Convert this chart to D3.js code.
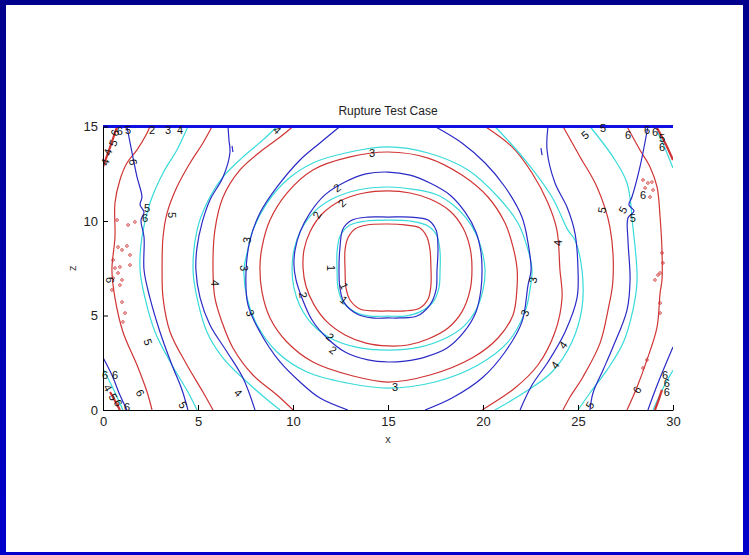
<!DOCTYPE html>
<html>
<head>
<meta charset="utf-8">
<script src="https://cdn.jsdelivr.net/npm/d3@7"></script>
<style>
  body { margin: 0; background: #fff; }
  svg { display: block; }
</style>
</head>
<body>
<svg id="chart" width="749" height="555"></svg>
<script>
// ---- Axis ticks ----
const xTicks = [0, 5, 10, 15, 20, 25, 30];
const zTicks = [0, 5, 10, 15];

// ---- Rupture-time contours, points are [x, z] ----
// level 1
const red1 = [[15.0,9.84],[15.89,9.79],[16.68,9.63],[17.05,9.15],[17.21,8.47],[17.26,7.51],[17.26,6.61],[17.11,5.87],[16.68,5.40],[15.89,5.24],[15.0,5.24],[14.32,5.24],[13.53,5.34],[13.0,5.82],[12.79,6.46],[12.74,7.41],[12.74,8.47],[12.89,9.10],[13.26,9.58],[13.89,9.79]];
const cyan1 = [[15.0,10.05],[16.16,10.0],[17.11,9.74],[17.58,9.21],[17.74,8.36],[17.74,7.41],[17.68,6.46],[17.37,5.71],[16.68,5.19],[15.89,4.97],[15.0,4.97],[14.05,4.97],[13.26,5.19],[12.63,5.71],[12.37,6.46],[12.32,7.41],[12.32,8.36],[12.48,9.21],[13.0,9.79],[13.84,10.0]];
const blue1 = [[15.0,10.21],[16.16,10.21],[17.11,10.05],[17.53,9.52],[17.63,8.57],[17.58,7.41],[17.53,6.35],[17.21,5.56],[16.53,4.97],[15.63,4.87],[15.0,4.87],[14.16,4.87],[13.37,5.08],[12.68,5.71],[12.47,6.46],[12.42,7.41],[12.47,8.57],[12.63,9.58],[13.11,10.05],[13.95,10.21]];
// level 2
const red2 = [[15.0,11.59],[16.16,11.48],[17.21,11.16],[18.26,10.53],[18.95,9.63],[19.32,8.57],[19.42,7.51],[19.32,6.35],[18.89,5.19],[18.16,4.34],[17.11,3.76],[16.05,3.44],[15.0,3.39],[13.84,3.54],[12.74,3.97],[11.79,4.66],[11.11,5.56],[10.68,6.56],[10.53,7.51],[10.58,8.47],[10.89,9.42],[11.53,10.37],[12.47,11.06],[13.74,11.48]];
const cyan2 = [[15.0,11.80],[16.26,11.69],[17.47,11.43],[18.37,10.90],[19.11,10.16],[19.68,9.21],[20.0,8.20],[20.11,7.41],[20.0,6.35],[19.63,5.29],[19.0,4.44],[18.05,3.81],[16.68,3.33],[15.0,3.17],[13.32,3.33],[11.95,3.81],[11.0,4.55],[10.37,5.50],[10.05,6.46],[9.95,7.41],[10.05,8.47],[10.42,9.52],[11.11,10.48],[12.05,11.16],[13.42,11.64]];
const blue2 = [[15.0,12.59],[16.16,12.43],[17.21,12.01],[18.26,11.38],[19.05,10.48],[19.63,9.42],[19.89,8.36],[19.95,7.41],[19.89,6.35],[19.63,5.19],[19.0,4.13],[18.11,3.28],[16.95,2.80],[15.89,2.59],[15.0,2.54],[13.95,2.65],[12.74,3.07],[11.79,3.81],[11.0,4.76],[10.47,5.93],[10.16,6.88],[10.05,7.67],[10.11,8.47],[10.37,9.42],[10.89,10.42],[11.68,11.38],[12.74,12.06],[13.84,12.49]];
// level 3
const red3 = [[15.0,13.65],[17.11,13.33],[18.89,12.43],[20.26,11.27],[21.16,9.89],[21.58,8.62],[21.79,7.51],[21.79,6.46],[21.58,5.03],[20.79,3.81],[19.42,2.75],[17.21,1.85],[15.0,1.48],[13.16,1.80],[11.05,2.54],[9.68,3.60],[8.79,4.87],[8.37,6.24],[8.26,7.51],[8.37,8.62],[8.79,10.05],[9.68,11.48],[11.05,12.70],[13.0,13.39]];
const cyan3 = [[15.0,13.92],[17.11,13.60],[19.21,12.70],[20.79,11.27],[21.84,9.89],[22.37,8.47],[22.58,7.41],[22.47,6.35],[22.21,5.19],[21.32,3.60],[19.74,2.38],[17.47,1.48],[15.0,1.16],[12.84,1.43],[10.74,2.01],[9.16,3.07],[8.11,4.50],[7.58,5.93],[7.42,7.41],[7.58,8.31],[7.89,9.52],[8.63,10.95],[9.68,12.17],[11.05,13.07],[13.0,13.65]];
const blue3a = [[12.47,15],[11.42,14.13],[10.37,13.23],[9.16,11.80],[8.26,10.42],[7.74,8.99],[7.53,7.41],[7.63,5.56],[8.26,4.13],[9.32,2.54],[10.37,1.48],[11.42,0.63],[12.89,0]];
const blue3b = [[17.47,15],[18.89,14.13],[20.11,13.07],[21.16,11.80],[22.05,10.21],[22.37,8.84],[22.53,7.41],[22.37,6.61],[22.05,4.66],[21.16,3.07],[19.95,1.69],[18.37,0.63],[16.95,0]];
// level 4
const red4a = [[10.0,15],[9.32,14.44],[8.26,13.65],[7.21,12.70],[6.32,11.27],[5.89,9.52],[5.79,7.41],[5.89,5.93],[6.26,4.66],[6.84,3.28],[7.89,1.85],[9.16,0.79],[10.0,0]];
const red4b = [[20.11,15],[21.53,13.92],[22.58,12.54],[23.42,10.95],[23.89,9.52],[24.05,7.41],[24.16,5.93],[23.79,4.13],[22.89,2.38],[21.68,1.16],[19.95,0]];
const cyan4a = [[9.16,15],[8.42,14.29],[7.37,13.39],[6.32,12.33],[5.47,10.95],[4.95,9.52],[4.74,7.41],[4.95,5.93],[5.47,4.13],[6.32,2.75],[7.58,1.48],[8.79,0.42],[9.32,0]];
const cyan4b = [[20.63,15],[22.21,13.23],[23.63,11.27],[24.47,9.52],[24.84,8.99],[25.21,7.41],[25.21,5.40],[24.68,3.60],[23.63,2.01],[22.21,0.95],[20.63,0]];
const blue4a = [[6.58,15],[6.63,14.29],[6.68,13.60],[6.32,12.33],[5.63,11.11],[5.21,9.89],[4.95,8.62],[4.89,7.41],[5.11,5.93],[5.63,4.50],[6.53,3.07],[7.37,1.69],[8.0,0]];
const blue4b = [[23.42,15],[23.37,13.76],[23.79,12.01],[24.42,10.74],[24.84,9.36],[25.0,7.41],[24.95,5.93],[24.32,4.13],[23.42,2.54],[22.58,1.32],[21.95,0]];
// level 5
const red5a = [[5.74,15],[5.26,14.13],[4.58,13.07],[3.89,11.80],[3.37,10.42],[3.16,9.15],[3.11,7.41],[3.16,5.93],[3.53,4.13],[4.42,2.38],[5.26,0.95],[5.79,0]];
const red5b = [[24.21,15],[25.11,13.39],[26.0,11.80],[26.68,9.68],[26.84,6.88],[26.58,5.29],[26.16,3.54],[25.26,1.75],[24.58,0.69],[24.21,0]];
const cyan5a = [[4.47,15],[3.89,13.76],[3.16,12.54],[2.47,10.95],[2.05,9.15],[1.95,7.41],[2.21,5.93],[2.74,4.13],[3.63,2.38],[4.47,0.95],[4.95,0]];
const cyan5b = [[25.63,15],[26.84,13.39],[27.58,12.01],[27.89,9.68],[28.11,6.88],[27.89,5.29],[27.37,3.54],[26.53,2.12],[25.63,0.90],[25.0,0]];
const blue5a = [[1.26,15],[1.53,13.60],[1.79,12.33],[2.05,11.27],[1.95,10.85],[2.16,10.48],[2.0,10.05],[2.16,9.15],[2.16,7.41],[2.47,5.93],[3.0,4.13],[3.63,2.38],[4.16,1.06],[4.47,0]];
const blue5b = [[28.68,15],[28.26,12.86],[27.84,11.27],[27.68,10.85],[27.95,10.53],[27.63,10.16],[27.63,8.99],[27.74,6.88],[27.58,5.29],[26.84,3.33],[26.32,2.12],[25.79,0.90],[25.63,0]];
// level 6
const red6a = [[2.47,15],[2.32,14.66],[1.79,13.76],[1.26,13.07],[0.89,12.17],[0.63,10.95],[0.63,9.15],[0.47,7.41],[0.63,5.93],[1.05,4.13],[1.79,2.38],[2.32,0.95],[2.58,0]];
const red6b = [[27.58,15],[28.26,13.76],[28.79,12.86],[29.16,11.80],[29.32,10.21],[29.42,8.47],[29.42,6.88],[29.32,6.19],[29.16,4.39],[28.63,2.65],[28.11,1.22],[27.58,0]];
// corner fragments where the fronts reach the edges
const blueCornerSW = [[0,2.78],[0.47,1.85],[0.89,0.79],[1.26,0]];
const blueCornerSE = [[28.68,0],[29.2,1.4],[30,3.33]];
const cyanCornerSW = [[0,2.2],[0.5,1.2],[1.05,0]];
const cyanCornerNE = [[29.16,14.75],[29.6,13.8],[30,12.8]];
const cyanCornerSE = [[28.95,0],[29.5,1.2],[30,2.1]];
const redCornerNW = [[0,12.86],[0.37,13.9],[0.74,15]];
const redCornerNE = [[29.16,14.92],[29.6,14.1],[30,13.23]];
const redCornerSW = [[0.37,0.95],[0.65,0.45],[0.89,0]];
const redCornerSE = [[29.05,0],[29.25,0.55],[29.42,1.06]];
// top boundary of the blue solution
const blueTopEdge = [[0,15],[30,15]];
// short blue pieces
const blueBits = [[[6.79,13.97],[6.84,13.65]],[[23.05,13.86],[23.11,13.49]]];
// tiny red closed contours near the side edges
const redIslands = [[0.74,10.05],[1.32,9.79],[1.68,9.95],[0.79,8.62],[1.0,8.47],[1.26,8.68],[1.42,8.20],[0.53,7.94],[0.89,7.57],[1.42,7.67],[0.63,7.51],[0.79,7.25],[0.53,6.98],[1.0,6.88],[0.89,6.61],[1.0,5.71],[1.16,5.13],[1.05,4.66],[0.47,6.35],
  [28.42,12.17],[28.68,12.01],[28.89,12.06],[28.53,11.75],[28.95,11.64],[28.79,11.27],[29.42,8.31],[29.47,7.78],[29.32,7.25],[29.05,6.88],[29.21,7.14],[29.32,5.66],[29.32,5.13],[28.42,2.22],[28.63,2.65]];

// [level, points, closed]
const blueLines = [[1, blue1, true], [2, blue2, true], [3, blue3a, false], [3, blue3b, false], [4, blue4a, false], [4, blue4b, false], [5, blue5a, false], [5, blue5b, false], [6, blueCornerSW, false], [6, blueCornerSE, false]];
const cyanLines = [[1, cyan1, true], [2, cyan2, true], [3, cyan3, true], [4, cyan4a, false], [4, cyan4b, false], [5, cyan5a, false], [5, cyan5b, false], [6, cyanCornerSW, false], [6, cyanCornerNE, false], [6, cyanCornerSE, false]];
const redLines = [[1, red1, true], [2, red2, true], [3, red3, true], [4, red4a, false], [4, red4b, false], [5, red5a, false], [5, red5b, false], [6, red6a, false], [6, red6b, false]];
const redThick = [redCornerNW, redCornerNE, redCornerSW, redCornerSE];

// contour labels: [text, x, z, rotation]
const contourLabels = [
  ["1",12.0,7.51,90],["1",12.68,6.56,65],["1",12.68,5.82,40],
  ["2",12.32,11.75,-35],["2",12.58,10.95,-45],["2",11.26,10.32,-60],["2",10.53,6.08,80],["2",11.95,3.86,40],["2",12.11,3.17,35],
  ["3",14.16,13.60,0],["3",7.58,8.99,-85],["3",7.42,7.51,90],["3",7.74,5.13,70],["3",22.63,6.88,-80],["3",22.21,5.13,-70],["3",15.37,1.22,0],
  ["4",5.89,6.72,90],["4",7.11,0.90,45],["4",24.21,3.44,-55],["4",23.79,2.38,-55],["4",23.95,8.84,-90],["4",9.16,14.81,45],
  ["5",3.63,10.32,90],["5",2.37,3.60,70],["5",4.21,0.26,60],["5",25.63,0.26,-60],["5",26.26,10.58,-80],["5",27.37,10.58,-60],["5",27.89,10.16,0],["5",25.37,14.55,-40],["5",2.32,10.69,0],["5",26.32,14.92,0],
  ["6",2.21,10.16,0],["6",1.58,13.12,80],["6",1.95,0.90,60],["6",0.37,6.88,90],["6",28.11,1.06,-60],["6",27.63,14.55,0],["6",28.42,11.38,0],
  ["4",0.11,13.12,-70],["4",0.26,13.65,-70],["5",0.53,14.13,-70],["6",0.63,14.66,-70],["6",0.89,14.76,0],["5",1.32,14.81,0],["2",2.58,14.81,0],["3",3.42,14.81,0],["4",4.05,14.81,0],
  ["6",0.11,1.85,0],["6",0.63,1.85,0],["4",0.26,1.16,60],["5",0.53,0.69,60],["6",0.79,0.37,60],["6",1.26,0.16,0],
  ["6",28.63,14.81,0],["6",29.05,14.71,0],["5",29.42,14.39,0],["6",29.42,13.92,0],
  ["6",29.58,1.85,0],["6",29.68,1.43,0],["6",29.68,0.95,0]
];

const colors = { blue: "#2a2ac6", cyan: "#38dada", red: "#d03434" };

// ---- Layout ----
const W = 749, H = 555;
const plot = { left: 103, right: 673, top: 126.5, bottom: 410 };

const svg = d3.select("#chart");

// frame
const defs = svg.append("defs");
const grad = defs.append("linearGradient").attr("id", "frame").attr("x1", 0).attr("y1", 0).attr("x2", 0).attr("y2", 1);
grad.append("stop").attr("offset", "0%").attr("stop-color", "#00008c");
grad.append("stop").attr("offset", "100%").attr("stop-color", "#0000cc");
svg.append("rect").attr("width", W).attr("height", H).attr("fill", "url(#frame)");
svg.append("rect").attr("x", 6).attr("y", 5).attr("width", W - 12).attr("height", H - 8).attr("fill", "#fff");

defs.append("clipPath").attr("id", "plotclip")
  .append("rect").attr("x", plot.left).attr("y", plot.top - 3)
  .attr("width", plot.right - plot.left).attr("height", plot.bottom - plot.top + 3);

const x = d3.scaleLinear().domain([0, 30]).range([plot.left, plot.right]);
const z = d3.scaleLinear().domain([0, 15]).range([plot.bottom, plot.top]);

const openLine = d3.line().x(d => x(d[0])).y(d => z(d[1])).curve(d3.curveCatmullRom.alpha(0.5));
const closedLine = d3.line().x(d => x(d[0])).y(d => z(d[1])).curve(d3.curveCatmullRomClosed.alpha(0.5));

const g = svg.append("g").attr("clip-path", "url(#plotclip)");

function drawSeries(list, color) {
  g.append("g").selectAll("path").data(list).join("path")
    .attr("d", d => (d[2] ? closedLine : openLine)(d[1]))
    .attr("fill", "none")
    .attr("stroke", color)
    .attr("stroke-width", 1.2);
}
drawSeries(redLines, colors.red);
drawSeries(cyanLines, colors.cyan);
drawSeries(blueLines, colors.blue);

g.append("g").selectAll("path").data(redThick).join("path")
  .attr("d", d => openLine(d)).attr("fill", "none")
  .attr("stroke", colors.red).attr("stroke-width", 2.2);

g.append("g").selectAll("path").data(blueBits).join("path")
  .attr("d", d => openLine(d)).attr("fill", "none")
  .attr("stroke", colors.blue).attr("stroke-width", 1.2);

g.append("g").selectAll("circle").data(redIslands).join("circle")
  .attr("cx", d => x(d[0])).attr("cy", d => z(d[1])).attr("r", 1.3)
  .attr("fill", "none").attr("stroke", colors.red).attr("stroke-width", 0.9);

g.append("path").attr("d", openLine(blueTopEdge))
  .attr("fill", "none").attr("stroke", "#1010e0").attr("stroke-width", 3);

// contour labels
svg.append("g").selectAll("text").data(contourLabels).join("text")
  .attr("transform", d => `translate(${x(d[1])},${z(d[2])}) rotate(${d[3]})`)
  .attr("text-anchor", "middle")
  .attr("dy", "0.35em")
  .attr("font-family", "Liberation Sans, Arial, sans-serif")
  .attr("font-size", 11)
  .attr("fill", "#111")
  .text(d => d[0]);

// axes
const xAxis = d3.axisBottom(x).tickValues(xTicks).tickSizeInner(-5).tickSizeOuter(0).tickPadding(7);
const zAxis = d3.axisLeft(z).tickValues(zTicks).tickSizeInner(-5).tickSizeOuter(0).tickPadding(5);

const gx = svg.append("g").attr("transform", `translate(0,${plot.bottom})`).call(xAxis);
const gz = svg.append("g").attr("transform", `translate(${plot.left},0)`).call(zAxis);
[gx, gz].forEach(a => {
  a.select(".domain").attr("stroke", "#000");
  a.selectAll(".tick line").attr("stroke", "#000");
  a.selectAll("text").attr("font-family", "Liberation Sans, Arial, sans-serif").attr("font-size", 13).attr("fill", "#222");
});

svg.append("text").attr("x", (plot.left + plot.right) / 2).attr("y", 443)
  .attr("text-anchor", "middle").attr("font-family", "Liberation Sans, Arial, sans-serif")
  .attr("font-size", 11).attr("fill", "#333").text("x");
svg.append("text").attr("transform", `translate(76,${(plot.top + plot.bottom) / 2}) rotate(-90)`)
  .attr("text-anchor", "middle").attr("font-family", "Liberation Sans, Arial, sans-serif")
  .attr("font-size", 11).attr("fill", "#333").text("z");
svg.append("text").attr("x", (plot.left + plot.right) / 2).attr("y", 115)
  .attr("text-anchor", "middle").attr("font-family", "Liberation Sans, Arial, sans-serif")
  .attr("font-size", 12).attr("fill", "#222").text("Rupture Test Case");
</script>
</body>
</html>
